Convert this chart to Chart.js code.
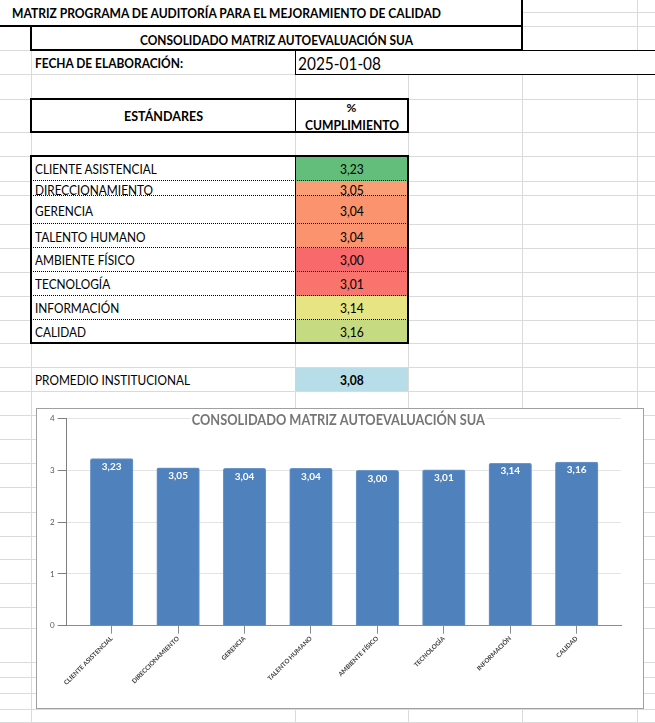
<!DOCTYPE html>
<html>
<head>
<meta charset="utf-8">
<script src="https://cdn.jsdelivr.net/npm/chart.js@4.4.1/dist/chart.umd.min.js"></script>
<style>
  html, body { margin: 0; padding: 0; background: #fff; overflow: hidden; }
  #sheet { position: relative; width: 655px; height: 723px; font-family: Lato, sans-serif; color: #000; }
  #chartBox { position: absolute; left: 36px; top: 408px; width: 608px; height: 301px; box-sizing: border-box;
              border: 1px solid #a0a0a0; background: #fff; }
  #chartInner { position: relative; width: 606px; height: 299px; }
</style>
</head>
<body>
<div id="sheet">
  <div id="chartBox"><div id="chartInner"><canvas id="BarGraph"></canvas></div></div>
</div>
<script>
const labels = ['CLIENTE ASISTENCIAL', 'DIRECCIONAMIENTO', 'GERENCIA', 'TALENTO HUMANO',
                'AMBIENTE FÍSICO', 'TECNOLOGÍA', 'INFORMACIÓN', 'CALIDAD'];
const values = [3.23, 3.05, 3.04, 3.04, 3.00, 3.01, 3.14, 3.16];
const yTicks = [0, 1, 2, 3, 4];
const average = 3.08;
const reportDate = '2025-01-08';

const fmt = v => v.toFixed(2).replace('.', ',');

// ---- spreadsheet part ----
const sheet = document.getElementById('sheet');
const chartBox = document.getElementById('chartBox');

function box(x, y, w, h, style) {
    const d = document.createElement('div');
    d.style.cssText = `position:absolute;left:${x}px;top:${y}px;width:${w}px;height:${h}px;box-sizing:border-box;${style || ''}`;
    sheet.insertBefore(d, chartBox);
    return d;
}
const hl = (y, x1, x2, st) => box(x1, y, x2 - x1, 0, 'border-top:' + st);
const vl = (x, y1, y2, st) => box(x, y1, 0, y2 - y1, 'border-left:' + st);

// y is the vertical centre; fitW squeezes the text horizontally to that width
function text(str, x, y, align, font, fitW, sx) {
    const s = document.createElement('span');
    s.textContent = str;
    s.style.cssText = `position:absolute;white-space:nowrap;line-height:1;font:${font};left:${x}px;top:${y}px;transform-origin:0 50%;`;
    sheet.insertBefore(s, chartBox);
    const r = s.getBoundingClientRect();
    const k = fitW ? fitW / r.width : (sx || 1);
    s.style.transform = `scaleX(${k})`;
    s.style.top = (y - r.height / 2) + 'px';
    if (align === 'center') s.style.left = (x - r.width * k / 2) + 'px';
    return s;
}

const G = '1px solid #dadada';
const B1 = '1px solid #000';
const B2 = '2px solid #000';
const DOT = '1px dotted #000';

// gray grid
[12, 26].forEach(y => hl(y, 522, 655, G));
[98.7, 132.3, 156, 180.7, 195.3, 223.7, 247.7, 271.7, 295.7, 319.7, 343.3, 367.3, 391.3,
 415.3, 439.3, 463.3, 487.3, 511.7, 535.7, 559.3, 583.3, 607.3, 627.7, 661.7, 676.7, 693.3, 709.3, 721.7]
    .forEach(y => hl(y, 0, 655, G));
hl(50, 0, 31, G);
hl(74, 0, 295, G);
vl(31, 50, 723, G);
vl(295, 74, 723, G);
vl(408, 74, 723, G);
vl(522, 74, 723, G);
vl(637, 0, 50, G);
vl(637, 74, 723, G);

// white areas (bordered cells)
box(31, 99, 377, 33, 'background:#fff');
box(31, 156, 264, 187, 'background:#fff');

// title boxes
hl(25, 0, 522, B2);
vl(521, 0, 50, B2);
vl(30, 25, 50, B2);
hl(49, 30, 523, B2);
// date cell
hl(50, 295, 655, B1);
hl(74, 295, 655, B1);
vl(295, 50, 75, B1);

// header box
box(30, 97.7, 379, 35.6, 'border:2px solid #000');
vl(295, 98.7, 132.3, B1);

// data table
const rowLines = [156, 180.7, 195.3, 223.7, 247.7, 271.7, 295.7, 319.7, 343.3];
const textY = [169.3, 190, 210.7, 236.5, 260, 284, 308, 332.3];
const fills = ['#63BE7B', '#FA9E75', '#FA936E', '#FA936E', '#F8696B', '#F9746D', '#E7E483', '#C6DA81'];
labels.forEach((lab, i) => {
    box(295, rowLines[i], 113, rowLines[i + 1] - rowLines[i] + 0.5, 'background:' + fills[i]);
});
labels.forEach((lab, i) => { if (i > 0) hl(rowLines[i] - 0.5, 31, 408, DOT); });
box(30, 155, 379, 189.3, 'border:2px solid #000');
vl(295, 156, 343.3, B1);

// promedio cell
box(295, 367.8, 113, 23.5, 'background:#B7DEE8');

// texts
text('MATRIZ PROGRAMA DE AUDITORÍA PARA EL MEJORAMIENTO DE CALIDAD', 12, 13.3, 'left', 'bold 12.5px Lato', 429);
text('CONSOLIDADO MATRIZ AUTOEVALUACIÓN SUA', 276.5, 40, 'center', 'bold 12.5px Lato', 273);
text('FECHA DE ELABORACIÓN:', 35, 63.3, 'left', 'bold 12.5px Lato', 148);
text(reportDate, 298, 63.5, 'left', '16.5px Lato', 83);
text('ESTÁNDARES', 163, 116.5, 'center', 'bold 12.5px Lato', 79);
text('%', 351.5, 107.5, 'center', 'bold 12px Lato');
text('CUMPLIMIENTO', 351.5, 125.7, 'center', 'bold 12.5px Lato', 94);
labels.forEach((lab, i) => {
    text(lab, 35, textY[i], 'left', '13px Lato', null, 0.91);
    text(fmt(values[i]), 351.5, textY[i], 'center', '13px Lato', null, 0.93);
});
text('PROMEDIO INSTITUCIONAL', 35, 380, 'left', '13px Lato', 155);
text(fmt(average), 351.5, 380, 'center', 'bold 13px Lato', null, 0.93);

// ---- chart ----
const barValueLabels = {
    id: 'barValueLabels',
    afterDatasetsDraw(chart) {
        const c = chart.ctx;
        c.save();
        c.font = 'bold 10px Lato';
        c.fillStyle = '#ffffff';
        c.textAlign = 'center';
        c.textBaseline = 'middle';
        chart.getDatasetMeta(0).data.forEach((bar, i) => {
            c.fillText(fmt(values[i]), bar.x, bar.y + 8);
        });
        c.restore();
    }
};

const chartTitle = {
    id: 'chartTitle',
    afterDraw(chart) {
        const c = chart.ctx;
        const t = 'CONSOLIDADO MATRIZ AUTOEVALUACIÓN SUA';
        const cx = 301.3, cy = 11;
        c.save();
        c.font = 'bold 15px Lato';
        const w = c.measureText(t).width;
        const k = 293 / w;
        c.fillStyle = '#ffffff';
        c.fillRect(cx - 148, 3, 296, 16);
        c.translate(cx, cy);
        c.scale(k, 1);
        c.fillStyle = '#767676';
        c.textAlign = 'center';
        c.textBaseline = 'middle';
        c.fillText(t, 0, 0);
        c.restore();
    }
};

const ctx = document.getElementById('BarGraph');

new Chart(ctx, {
    type: 'bar',
    data: {
        datasets: [{
            label: 'Cumplimiento',
            data: values.map((v, i) => ({ x: i, y: v })),
            backgroundColor: '#4F81BD',
            borderColor: '#6b96c9',
            borderWidth: 1,
            borderRadius: { topLeft: 2, topRight: 2 },
            borderSkipped: 'bottom',
            barThickness: 42.6
        }]
    },
    options: {
        responsive: true,
        maintainAspectRatio: false,
        animation: false,
        layout: { padding: { top: 9.7, right: 22, left: 0, bottom: 0 } },
        plugins: {
            legend: { display: false },
            tooltip: { enabled: false }
        },
        scales: {
            x: {
                type: 'linear',
                min: -0.677,
                max: 7.667,
                offset: false,
                afterBuildTicks: s => { s.ticks = labels.map((_, i) => ({ value: i })); },
                afterFit: s => { s.height = 82.3; },
                ticks: {
                    autoSkip: false,
                    minRotation: 45,
                    maxRotation: 45,
                    padding: 1,
                    color: '#404040',
                    font: { family: 'Lato', size: 6.3, weight: 'bold' },
                    callback: v => labels[v]
                },
                grid: { offset: false, drawOnChartArea: false, tickLength: 8, color: '#8c8c8c' },
                border: { color: '#8c8c8c' }
            },
            y: {
                min: 0,
                max: 4,
                afterBuildTicks: s => { s.ticks = yTicks.map(v => ({ value: v })); },
                afterFit: s => { s.width = 29.7; },
                ticks: {
                    padding: 3,
                    color: '#595959',
                    font: { family: 'Lato', size: 8 }
                },
                grid: { color: '#e4e4e4', tickColor: '#7f7f7f', tickLength: 9 },
                border: { color: '#7f7f7f' }
            }
        }
    },
    plugins: [barValueLabels, chartTitle]
});
</script>
</body>
</html>
